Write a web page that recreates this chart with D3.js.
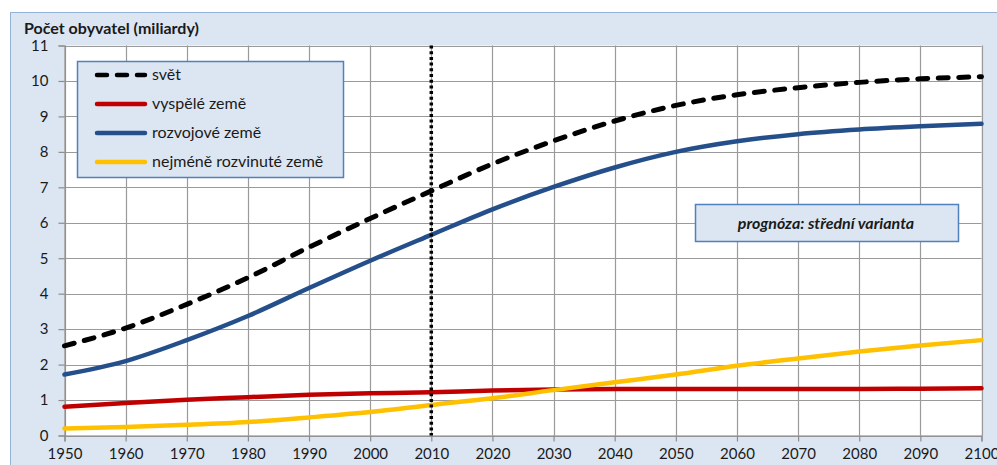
<!DOCTYPE html>
<html>
<head>
<meta charset="utf-8">
<script src="https://cdn.jsdelivr.net/npm/d3@7"></script>
<style>
  html, body { margin: 0; padding: 0; background: #ffffff; }
  svg { display: block; font-family: Lato, "Open Sans", sans-serif; }
</style>
</head>
<body>
<svg id="chart" width="997" height="465"></svg>
<script>
// Population by region, UN medium variant (billions)
const years = [1950, 1960, 1970, 1980, 1990, 2000, 2010, 2020, 2030, 2040, 2050, 2060, 2070, 2080, 2090, 2100];
const world      = [2.53, 3.03, 3.70, 4.45, 5.31, 6.12, 6.90, 7.66, 8.31, 8.87, 9.31, 9.61, 9.81, 9.96, 10.06, 10.12];
const developed  = [0.81, 0.92, 1.01, 1.08, 1.15, 1.19, 1.22, 1.27, 1.30, 1.31, 1.31, 1.31, 1.31, 1.31, 1.32, 1.33];
const developing = [1.72, 2.10, 2.69, 3.37, 4.16, 4.93, 5.66, 6.38, 7.01, 7.56, 8.00, 8.30, 8.50, 8.63, 8.72, 8.79];
const leastDev   = [0.20, 0.24, 0.30, 0.38, 0.51, 0.66, 0.86, 1.05, 1.28, 1.50, 1.72, 1.97, 2.17, 2.37, 2.54, 2.69];
const yTicks = [0, 1, 2, 3, 4, 5, 6, 7, 8, 9, 10, 11];
const xTicks = years;
const seriesNames = ["svět", "vyspělé země", "rozvojové země", "nejméně rozvinuté země"];
const titleText = "Počet obyvatel (miliardy)";
const noteText = "prognóza: střední varianta";
const markerYear = 2010;

const series = [
  { name: seriesNames[0], values: world,      color: "#000000", dash: "10,10.5" },
  { name: seriesNames[1], values: developed,  color: "#c00000", dash: null },
  { name: seriesNames[2], values: developing, color: "#244f8a", dash: null },
  { name: seriesNames[3], values: leastDev,   color: "#ffc000", dash: null }
];

const svg = d3.select("#chart");
const W = 997, H = 465;
const plot = { left: 64.5, right: 981.5, top: 45.5, bottom: 435.5 };

// outer panel
svg.append("rect").attr("x", 10.5).attr("y", 12.5).attr("width", W).attr("height", H)
  .attr("fill", "#dce6f2").attr("stroke", "#95b3d7").attr("stroke-width", 1);

const x = d3.scaleLinear().domain([1950, 2100]).range([plot.left, plot.right]);
const y = d3.scaleLinear().domain([0, 11]).range([plot.bottom, plot.top]);

// plot area
svg.append("rect").attr("x", plot.left).attr("y", plot.top)
  .attr("width", plot.right - plot.left).attr("height", plot.bottom - plot.top)
  .attr("fill", "#ffffff");

// gridlines
const grid = svg.append("g").attr("stroke", "#9a9a9a").attr("stroke-width", 1.2);
grid.selectAll("line.h").data(yTicks).join("line")
  .attr("x1", plot.left).attr("x2", plot.right)
  .attr("y1", d => Math.round(y(d)) + 0.5).attr("y2", d => Math.round(y(d)) + 0.5);
grid.selectAll("line.v").data(xTicks).join("line")
  .attr("y1", plot.top).attr("y2", plot.bottom)
  .attr("x1", d => Math.round(x(d)) + 0.5).attr("x2", d => Math.round(x(d)) + 0.5);

// axes
const yAxis = d3.axisLeft(y).tickValues(yTicks).tickSize(6).tickPadding(10).tickFormat(d3.format("d"));
const xAxis = d3.axisBottom(x).tickValues(xTicks).tickSize(6).tickPadding(7).tickFormat(d3.format("d"));

const gy = svg.append("g").attr("transform", `translate(${plot.left},0)`).call(yAxis);
const gx = svg.append("g").attr("transform", `translate(0,${plot.bottom})`).call(xAxis);
[gx, gy].forEach(g => {
  g.select(".domain").attr("stroke", "#8c8c8c").attr("stroke-width", 1.2);
  g.selectAll(".tick line").attr("stroke", "#8c8c8c").attr("stroke-width", 1.2);
  g.selectAll(".tick text").attr("fill", "#1a1a1a").style("font-size", "15px")
    .style("font-family", "Lato, 'Open Sans', sans-serif");
});

// series lines
const line = d3.line().x((d, i) => x(years[i])).y(d => y(d)).curve(d3.curveMonotoneX);
const order = [series[1], series[3], series[2], series[0]];
order.forEach(s => {
  svg.append("path").datum(s.values)
    .attr("d", line)
    .attr("fill", "none")
    .attr("stroke", s.color)
    .attr("stroke-width", s.dash ? 5 : 4.5)
    .attr("stroke-linecap", "round")
    .attr("stroke-linejoin", "round")
    .attr("stroke-dasharray", s.dash);
});

// marker at the start of the projection
svg.append("line")
  .attr("x1", x(markerYear)).attr("x2", x(markerYear))
  .attr("y1", plot.top).attr("y2", plot.bottom)
  .attr("stroke", "#000").attr("stroke-width", 3.5)
  .attr("stroke-dasharray", "3,2.7");

// title
svg.append("text").attr("x", 24).attr("y", 34)
  .style("font-size", "16px").style("font-weight", "bold").attr("fill", "#1a1a1a")
  .text(titleText);

// legend
const leg = svg.append("g");
leg.append("rect").attr("x", 77.5).attr("y", 61.5).attr("width", 266).attr("height", 116)
  .attr("fill", "#dce6f2").attr("stroke", "#4f81bd").attr("stroke-width", 1.5);
series.forEach((s, i) => {
  const cy = 75 + i * 29;
  leg.append("line").attr("x1", 97).attr("x2", 145).attr("y1", cy).attr("y2", cy)
    .attr("stroke", s.color).attr("stroke-width", 4.5).attr("stroke-linecap", "round")
    .attr("stroke-dasharray", s.dash ? "10,10" : null);
  leg.append("text").attr("x", 152).attr("y", cy + 5)
    .style("font-size", "16px").attr("fill", "#1a1a1a").text(s.name);
});

// projection note
const note = svg.append("g");
note.append("rect").attr("x", 695.5).attr("y", 204.5).attr("width", 263).attr("height", 37)
  .attr("fill", "#dce6f2").attr("stroke", "#4f81bd").attr("stroke-width", 1.5);
note.append("text").attr("x", 826).attr("y", 228.5).attr("text-anchor", "middle")
  .style("font-size", "16px").style("font-weight", "bold").style("font-style", "italic")
  .attr("fill", "#1a1a1a").text(noteText);
</script>
</body>
</html>
